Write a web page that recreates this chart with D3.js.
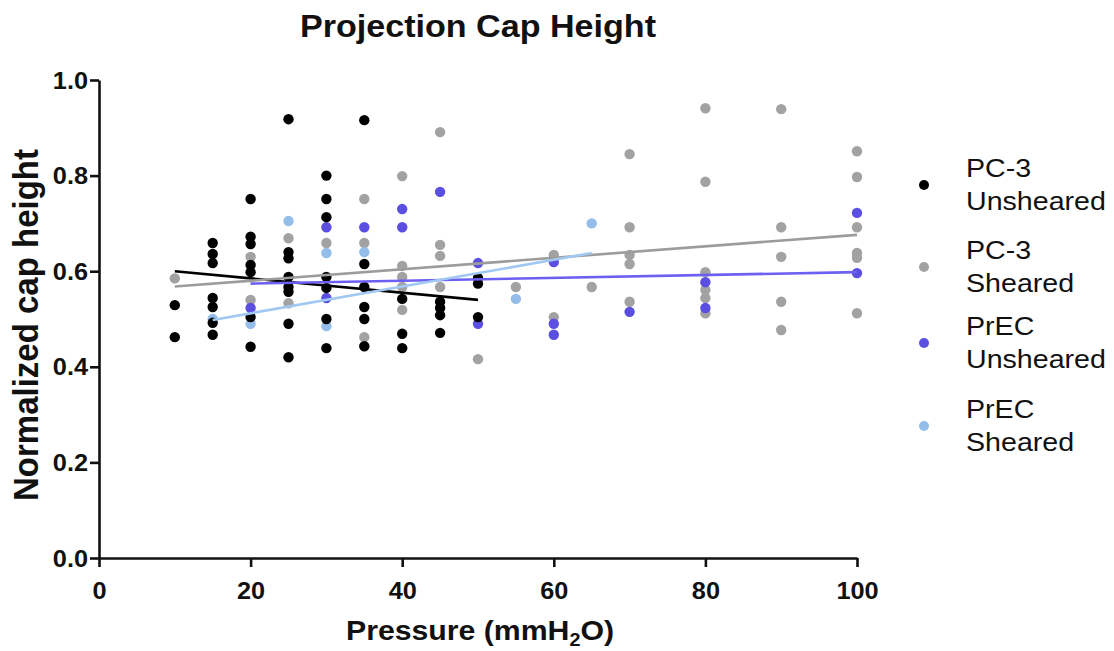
<!DOCTYPE html>
<html>
<head>
<meta charset="utf-8">
<script src="https://cdn.jsdelivr.net/npm/d3@7"></script>
<style>
  body { margin: 0; background: #fff; }
  text { font-family: "Liberation Sans", Arial, Helvetica, sans-serif; fill: #111; }
</style>
</head>
<body>
<div id="chart"></div>
<script>
// ---- data (pressure in mmH2O, normalized cap height) ----
const pressures = [0, 20, 40, 60, 80, 100];      // x tick labels
const heightTicks = [0, 0.2, 0.4, 0.6, 0.8, 1.0]; // y tick labels

const pc3Unsheared = [
  [10, 0.529], [10, 0.462],
  [15, 0.659], [15, 0.636], [15, 0.617], [15, 0.544], [15, 0.525], [15, 0.492], [15, 0.467],
  [20, 0.751], [20, 0.672], [20, 0.657], [20, 0.613], [20, 0.598], [20, 0.504], [20, 0.442],
  [25, 0.918], [25, 0.640], [25, 0.627], [25, 0.588], [25, 0.567], [25, 0.557], [25, 0.490], [25, 0.420],
  [30, 0.800], [30, 0.751], [30, 0.713], [30, 0.588], [30, 0.565], [30, 0.500], [30, 0.439],
  [35, 0.916], [35, 0.615], [35, 0.567], [35, 0.525], [35, 0.500], [35, 0.443],
  [40, 0.542], [40, 0.469], [40, 0.439],
  [45, 0.536], [45, 0.523], [45, 0.508], [45, 0.471],
  [50, 0.586], [50, 0.574], [50, 0.504]
];
const pc3Sheared = [
  [10, 0.585],
  [20, 0.630], [20, 0.540],
  [25, 0.669], [25, 0.533],
  [30, 0.659],
  [35, 0.751], [35, 0.659], [35, 0.462],
  [40, 0.799], [40, 0.611], [40, 0.588], [40, 0.567], [40, 0.519],
  [45, 0.891], [45, 0.655], [45, 0.632], [45, 0.567],
  [50, 0.416],
  [55, 0.567],
  [60, 0.634], [60, 0.504],
  [65, 0.567],
  [70, 0.845], [70, 0.692], [70, 0.634], [70, 0.615], [70, 0.536],
  [80, 0.941], [80, 0.787], [80, 0.598], [80, 0.561], [80, 0.544], [80, 0.512],
  [90, 0.939], [90, 0.692], [90, 0.630], [90, 0.536], [90, 0.477],
  [100, 0.851], [100, 0.797], [100, 0.692], [100, 0.638], [100, 0.628], [100, 0.512]
];
const precUnsheared = [
  [20, 0.523],
  [30, 0.692], [30, 0.544],
  [35, 0.692],
  [40, 0.730], [40, 0.692],
  [45, 0.766],
  [50, 0.617], [50, 0.490],
  [60, 0.619], [60, 0.490], [60, 0.467],
  [70, 0.515],
  [80, 0.577], [80, 0.523],
  [100, 0.722], [100, 0.596]
];
const precSheared = [
  [15, 0.500],
  [20, 0.490],
  [25, 0.705],
  [30, 0.638], [30, 0.485],
  [35, 0.640],
  [55, 0.542],
  [65, 0.700]
];

// linear fit lines, endpoints
const fitPc3Unsheared = [[10, 0.600], [50, 0.540]];
const fitPc3Sheared = [[10, 0.568], [100, 0.676]];
const fitPrecUnsheared = [[20, 0.574], [100, 0.598]];
const fitPrecSheared = [[15, 0.498], [65, 0.638]];

const legendLines = [["PC-3", "Unsheared"], ["PC-3", "Sheared"], ["PrEC", "Unsheared"], ["PrEC", "Sheared"]];
const colors = ["#000000", "#a2a2a2", "#5a4fe0", "#94bde9"];
const lineColors = ["#000000", "#9c9c9c", "#6b60f2", "#a0c8f2"];

// ---- layout ----
const W = 1114, H = 651;
const x = d3.scaleLinear().domain([0, 100]).range([99, 857]);
const y = d3.scaleLinear().domain([0, 1]).range([558, 80]);
const sx = 1.1; // the figure's lettering is slightly wide

const svg = d3.select("#chart").append("svg")
  .attr("width", W).attr("height", H);

// helper: horizontally stretched text
function label(g, tx, ty, str, size, weight, anchor, rot) {
  return g.append("text")
    .attr("transform", "translate(" + tx + "," + ty + ") scale(" + sx + ",1)" + (rot ? " rotate(" + rot + ")" : ""))
    .attr("text-anchor", anchor)
    .style("font-size", size + "px")
    .style("font-weight", weight)
    .text(str);
}

// title
label(svg, 478, 37, "Projection Cap Height", 31, "bold", "middle");

// axes
const yAxis = d3.axisLeft(y).tickValues(heightTicks).tickFormat(d3.format(".1f")).tickSize(9).tickSizeOuter(0);
const xAxis = d3.axisBottom(x).tickValues(pressures).tickFormat(d3.format("d")).tickSize(9).tickSizeOuter(0);

const gy = svg.append("g").attr("transform", "translate(" + x(0) + ",0)").call(yAxis);
const gx = svg.append("g").attr("transform", "translate(0," + y(0) + ")").call(xAxis);

[gx, gy].forEach(g => {
  g.select(".domain").attr("stroke", "#111").attr("stroke-width", 2.6);
  g.selectAll(".tick line").attr("stroke", "#111").attr("stroke-width", 2.6);
  g.selectAll(".tick text").remove();
});

gy.selectAll(".tick").each(function (d) {
  label(d3.select(this), -11, 8, d3.format(".1f")(d), 23, "bold", "end");
});
gx.selectAll(".tick").each(function (d) {
  label(d3.select(this), 0, 41, d3.format("d")(d), 23, "bold", "middle");
});

// axis titles
svg.append("text")
  .attr("transform", "translate(38,325) scale(1.05,1) rotate(-90)")
  .attr("text-anchor", "middle")
  .style("font-size", "33px")
  .style("font-weight", "bold")
  .text("Normalized cap height");

const xt = svg.append("text")
  .attr("transform", "translate(480,640) scale(" + sx + ",1)")
  .attr("text-anchor", "middle")
  .style("font-size", "27.5px")
  .style("font-weight", "bold");
xt.append("tspan").text("Pressure (mmH");
xt.append("tspan").attr("dy", 6).style("font-size", "18px").text("2");
xt.append("tspan").attr("dy", -6).text("O)");

// points
const series = [pc3Sheared, precSheared, precUnsheared, pc3Unsheared];
const seriesColor = [colors[1], colors[3], colors[2], colors[0]];
const plot = svg.append("g");
series.forEach((s, i) => {
  plot.selectAll(null)
    .data(s)
    .enter()
    .append("circle")
    .attr("cx", d => x(d[0]))
    .attr("cy", d => y(d[1]))
    .attr("r", 5.2)
    .attr("fill", seriesColor[i]);
});

// fit lines
const line = d3.line().x(d => x(d[0])).y(d => y(d[1]));
const fits = [fitPc3Unsheared, fitPc3Sheared, fitPrecUnsheared, fitPrecSheared];
fits.forEach((f, i) => {
  plot.append("path")
    .attr("d", line(f))
    .attr("fill", "none")
    .attr("stroke", lineColors[i])
    .attr("stroke-width", 2.6);
});

// legend
const legendY = [185, 267, 343, 426];
const legend = svg.append("g");
legendLines.forEach((l, i) => {
  legend.append("circle")
    .attr("cx", 924).attr("cy", legendY[i]).attr("r", 5)
    .attr("fill", colors[i]);
  label(legend, 966, legendY[i] - 8, l[0], 26, "normal", "start");
  label(legend, 966, legendY[i] + 25, l[1], 26, "normal", "start");
});
</script>
</body>
</html>
